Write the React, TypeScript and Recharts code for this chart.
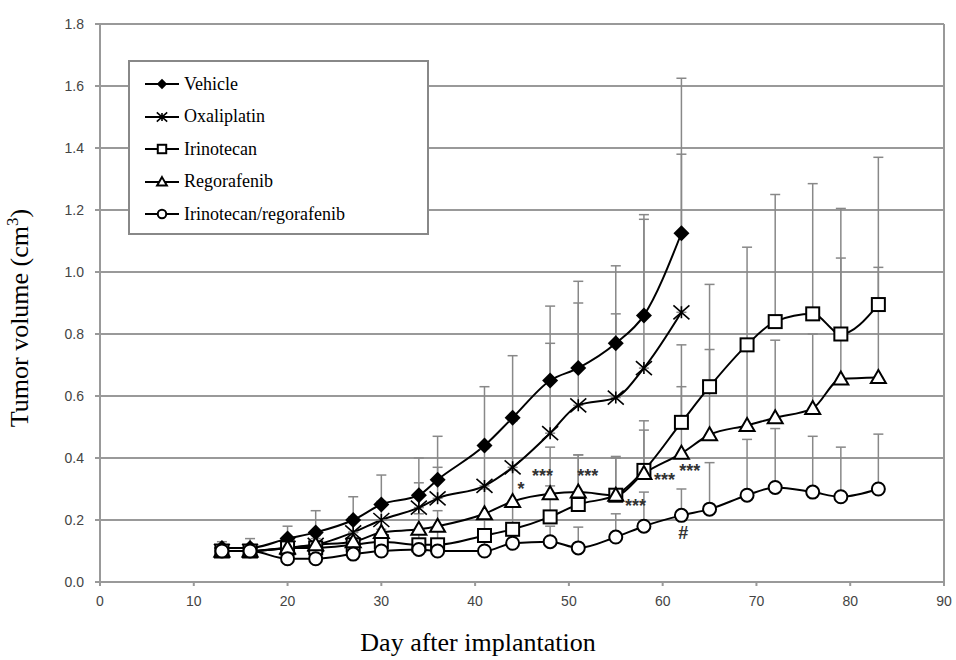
import React from "react";
import {
  CartesianGrid,
  ErrorBar,
  Legend,
  Line,
  LineChart,
  ReferenceDot,
  ReferenceLine,
  XAxis,
  YAxis,
} from "recharts";

const days = [13, 16, 20, 23, 27, 30, 34, 36, 41, 44, 48, 51, 55, 58, 62, 65, 69, 72, 76, 79, 83];

const vehicle = [0.11, 0.11, 0.14, 0.16, 0.2, 0.25, 0.28, 0.33, 0.44, 0.53, 0.65, 0.69, 0.77, 0.86, 1.125];
const vehicleErr = [0.02, 0.03, 0.04, 0.07, 0.075, 0.095, 0.12, 0.14, 0.19, 0.2, 0.24, 0.28, 0.25, 0.325, 0.5];

const oxaliplatin = [0.1, 0.1, 0.11, 0.12, 0.16, 0.2, 0.24, 0.27, 0.31, 0.37, 0.48, 0.57, 0.595, 0.69, 0.87];
const oxaliplatinErr = [0.02, 0.02, 0.03, 0.04, 0.05, 0.06, 0.08, 0.1, 0.12, 0.15, 0.29, 0.33, 0.27, 0.48, 0.51];

const irinotecan = [0.1, 0.1, 0.11, 0.11, 0.12, 0.13, 0.12, 0.12, 0.15, 0.17, 0.21, 0.25, 0.28, 0.36, 0.515, 0.63, 0.765, 0.84, 0.865, 0.8, 0.895];
const irinotecanErr = [0.02, 0.02, 0.03, 0.03, 0.04, 0.04, 0.04, 0.05, 0.06, 0.08, 0.1, 0.16, 0.125, 0.16, 0.25, 0.33, 0.315, 0.41, 0.42, 0.405, 0.475];

const regorafenib = [0.1, 0.1, 0.11, 0.12, 0.13, 0.16, 0.17, 0.18, 0.22, 0.26, 0.285, 0.29, 0.28, 0.35, 0.415, 0.475, 0.505, 0.53, 0.56, 0.655, 0.66];
const regorafenibErr = [0.02, 0.02, 0.02, 0.03, 0.03, 0.04, 0.05, 0.05, 0.08, 0.1, 0.15, 0.12, 0.12, 0.14, 0.215, 0.275, 0.25, 0.25, 0.24, 0.39, 0.355];

const combo = [0.1, 0.1, 0.075, 0.075, 0.09, 0.1, 0.105, 0.1, 0.1, 0.125, 0.13, 0.11, 0.145, 0.18, 0.215, 0.235, 0.28, 0.305, 0.29, 0.275, 0.3];
const comboErr = [0.01, 0.01, 0.02, 0.02, 0.02, 0.02, 0.03, 0.03, 0.04, 0.04, 0.05, 0.067, 0.075, 0.11, 0.085, 0.15, 0.18, 0.19, 0.18, 0.16, 0.177];

const xTicks = [0, 10, 20, 30, 40, 50, 60, 70, 80, 90];
const yTicks = [0, 0.2, 0.4, 0.6, 0.8, 1.0, 1.2, 1.4, 1.6, 1.8];

const seriesNames = ["Vehicle", "Oxaliplatin", "Irinotecan", "Regorafenib", "Irinotecan/regorafenib"];

// significance marks: [day, value, text]
const marks: [number, number, string][] = [
  [44.9, 0.3, "*"],
  [47.2, 0.342, "***"],
  [52.0, 0.342, "***"],
  [57.1, 0.248, "***"],
  [60.2, 0.33, "***"],
  [62.9, 0.36, "***"],
  [62.2, 0.16, "#"],
];

const pick = (arr: number[], i: number) => (i < arr.length ? arr[i] : null);
const err = (arr: number[], i: number) => (i < arr.length ? [0, arr[i]] : null);

const data = days.map((day, i) => ({
  day,
  vehicle: pick(vehicle, i),
  vehicleErr: err(vehicleErr, i),
  oxaliplatin: pick(oxaliplatin, i),
  oxaliplatinErr: err(oxaliplatinErr, i),
  irinotecan: pick(irinotecan, i),
  irinotecanErr: err(irinotecanErr, i),
  regorafenib: pick(regorafenib, i),
  regorafenibErr: err(regorafenibErr, i),
  combo: pick(combo, i),
  comboErr: err(comboErr, i),
}));

type Shape = "diamond" | "star" | "square" | "triangle" | "circle";

const Marker = ({ cx, cy, shape, s = 1 }: { cx: number; cy: number; shape: Shape; s?: number }) => {
  if (cx == null || cy == null) return null;
  const sw = 2;
  switch (shape) {
    case "diamond":
      return <path d={`M${cx},${cy - 8 * s}L${cx + 8 * s},${cy}L${cx},${cy + 8 * s}L${cx - 8 * s},${cy}Z`} fill="#000" />;
    case "star":
      return (
        <path
          d={`M${cx - 8 * s},${cy - 7 * s}L${cx + 8 * s},${cy + 7 * s}M${cx - 8 * s},${cy + 7 * s}L${cx + 8 * s},${cy - 7 * s}M${cx},${cy - 6 * s}L${cx},${cy + 6 * s}`}
          stroke="#000"
          strokeWidth={1.6}
          fill="none"
        />
      );
    case "square":
      return <rect x={cx - 6.5 * s} y={cy - 6.5 * s} width={13 * s} height={13 * s} fill="#fff" stroke="#000" strokeWidth={sw} />;
    case "triangle":
      return <path d={`M${cx},${cy - 7.5 * s}L${cx + 7.5 * s},${cy + 5.5 * s}L${cx - 7.5 * s},${cy + 5.5 * s}Z`} fill="#fff" stroke="#000" strokeWidth={sw} />;
    default:
      return <circle cx={cx} cy={cy} r={6.5 * s} fill="#fff" stroke="#000" strokeWidth={sw} />;
  }
};

const dotFor = (shape: Shape) => (props: any) => <Marker key={`${shape}-${props.index}`} cx={props.cx} cy={props.cy} shape={shape} />;

const shapes: Shape[] = ["diamond", "star", "square", "triangle", "circle"];

const LegendBox = () => (
  <div
    style={{
      width: 301,
      height: 175,
      boxSizing: "border-box",
      border: "2px solid #888",
      background: "#fff",
      fontFamily: "Liberation Serif, Times New Roman, serif",
      fontSize: 18,
      color: "#000",
      paddingTop: 6,
    }}
  >
    {seriesNames.map((name, i) => (
      <div key={name} style={{ display: "flex", alignItems: "center", height: 32.5, paddingLeft: 14 }}>
        <svg width={36} height={20} style={{ marginRight: 4 }}>
          <line x1={1} y1={10} x2={35} y2={10} stroke="#000" strokeWidth={2} />
          <Marker cx={18} cy={10} shape={shapes[i]} s={0.65} />
        </svg>
        <span>{name}</span>
      </div>
    ))}
  </div>
);

const tickStyle = { fill: "#444", fontSize: 14, fontFamily: "Liberation Sans, Arial, sans-serif" };

export default function App() {
  return (
    <div style={{ width: 956, height: 660 }}>
      <style>{"body{margin:0}"}</style>
      <LineChart width={956} height={660} data={data} margin={{ top: 24, right: 12, left: 40, bottom: 48 }}>
        <CartesianGrid vertical={false} stroke="#999" strokeWidth={2} />
        <XAxis
          dataKey="day"
          type="number"
          domain={[0, 90]}
          ticks={xTicks}
          height={30}
          stroke="#999"
          strokeWidth={2}
          tickSize={4}
          tickMargin={10}
          tick={tickStyle}
          label={() => (
            <text x={478} y={651} textAnchor="middle" fontFamily="Liberation Serif, Times New Roman, serif" fontSize={26} fill="#000">
              Day after implantation
            </text>
          )}
        />
        <YAxis
          type="number"
          domain={[0, 1.8]}
          ticks={yTicks}
          width={60}
          stroke="#999"
          strokeWidth={2}
          tickSize={5}
          tickMargin={11}
          tick={tickStyle}
          tickFormatter={(v: number) => v.toFixed(1)}
          label={() => (
            <text
              x={28}
              y={318}
              transform="rotate(-90 28 318)"
              textAnchor="middle"
              fontFamily="Liberation Serif, Times New Roman, serif"
              fontSize={26}
              fill="#000"
            >
              Tumor volume (cm
              <tspan dy={-10} fontSize={17}>3</tspan>
              <tspan dy={10}>)</tspan>
            </text>
          )}
        />
        <ReferenceLine x={90} stroke="#999" strokeWidth={2} />
        <Legend
          layout="vertical"
          align="center"
          verticalAlign="middle"
          content={() => <LegendBox />}
          wrapperStyle={{ left: 128, top: 60, width: 301, height: 175 }}
        />
        <Line dataKey="vehicle" stroke="#000" strokeWidth={2} type="monotone" dot={dotFor("diamond")} isAnimationActive={false}>
          <ErrorBar dataKey="vehicleErr" direction="y" width={5} stroke="#888" strokeWidth={1.5} />
        </Line>
        <Line dataKey="oxaliplatin" stroke="#000" strokeWidth={2} type="monotone" dot={dotFor("star")} isAnimationActive={false}>
          <ErrorBar dataKey="oxaliplatinErr" direction="y" width={5} stroke="#888" strokeWidth={1.5} />
        </Line>
        <Line dataKey="irinotecan" stroke="#000" strokeWidth={2} type="monotone" dot={dotFor("square")} isAnimationActive={false}>
          <ErrorBar dataKey="irinotecanErr" direction="y" width={5} stroke="#888" strokeWidth={1.5} />
        </Line>
        <Line dataKey="regorafenib" stroke="#000" strokeWidth={2} type="monotone" dot={dotFor("triangle")} isAnimationActive={false}>
          <ErrorBar dataKey="regorafenibErr" direction="y" width={5} stroke="#888" strokeWidth={1.5} />
        </Line>
        <Line dataKey="combo" stroke="#000" strokeWidth={2} type="monotone" dot={dotFor("circle")} isAnimationActive={false}>
          <ErrorBar dataKey="comboErr" direction="y" width={5} stroke="#888" strokeWidth={1.5} />
        </Line>
        {marks.map(([x, y, t], i) => (
          <ReferenceDot
            key={i}
            x={x}
            y={y}
            r={0}
            stroke="none"
            label={{ value: t, position: "center", fill: "#333", fontSize: 18, fontWeight: "bold", fontFamily: "Liberation Sans, Arial, sans-serif" }}
          />
        ))}
      </LineChart>
    </div>
  );
}
